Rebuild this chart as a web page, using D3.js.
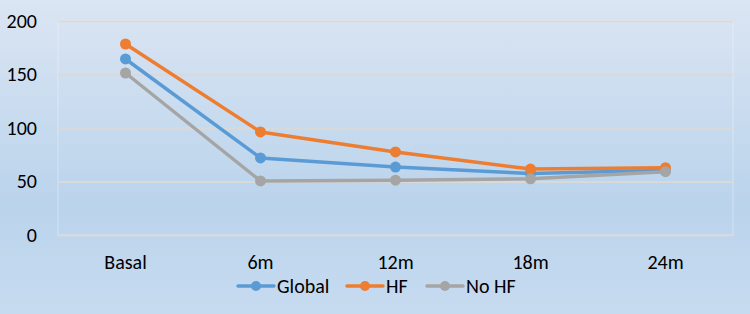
<!DOCTYPE html>
<html><head><meta charset="utf-8">
<script src="https://cdn.jsdelivr.net/npm/d3@7"></script>
<style>html,body{margin:0;padding:0;}svg{display:block;}</style>
</head><body>
<svg id="c" width="750" height="314"></svg>
<script>
const categories = ["Basal","6m","12m","18m","24m"];
const seriesNames = ["Global","HF","No HF"];
const globalVals = [164.5, 72, 63.5, 57.5, 60.5];
const hfVals = [178.5, 96.3, 77.6, 61.6, 62.9];
const noHfVals = [151.4, 50.5, 51.2, 52.5, 59.2];
const yTicks = [0, 50, 100, 150, 200];
const colors = ["#5b9bd5", "#ed7d31", "#a5a5a5"];

const series = [globalVals, hfVals, noHfVals].map((v,i)=>({name:seriesNames[i], values:v, color:colors[i]}));
const FONT = "Carlito, Calibri, Lato, sans-serif";

const svg = d3.select("#c");
const W = 750, H = 314;
const defs = svg.append("defs");
const g = defs.append("linearGradient").attr("id","bg").attr("x1",0).attr("y1",0).attr("x2",0).attr("y2",1);
g.append("stop").attr("offset","0%").attr("stop-color","#dbe5f3");
g.append("stop").attr("offset","65%").attr("stop-color","#bad4ec");
g.append("stop").attr("offset","100%").attr("stop-color","#c7dbf0");
svg.append("rect").attr("width",W).attr("height",H).attr("fill","url(#bg)");

const m = {l:58, r:733, t:21, b:235};
const x = d3.scaleBand().domain(categories).range([m.l, m.r]);
const y = d3.scaleLinear().domain([0,200]).range([m.b, m.t]);

svg.append("rect").attr("x",m.l).attr("y",m.t).attr("width",m.r-m.l).attr("height",m.b-m.t)
  .attr("fill","none").attr("stroke","#ffffff").attr("stroke-opacity",0.35).attr("stroke-width",1);
svg.append("line").attr("x1",m.l).attr("x2",m.r).attr("y1",m.t+0.5).attr("y2",m.t+0.5)
  .attr("stroke","#ffffff").attr("stroke-opacity",0.8).attr("stroke-width",1.5);

const yAxis = d3.axisLeft(y).tickValues(yTicks).tickSize(-(m.r-m.l)).tickPadding(21);
const ya = svg.append("g").attr("transform",`translate(${m.l},0)`).call(yAxis);
ya.select(".domain").remove();
ya.selectAll(".tick line").attr("stroke","#d9d9d9").attr("stroke-width",2);
ya.selectAll(".tick text").attr("fill","#000").style("font-family",FONT).style("font-size","20px");

const xa = svg.append("g").attr("transform",`translate(0,${m.b})`)
  .call(d3.axisBottom(x).tickSize(0).tickPadding(20));
xa.select(".domain").remove();
xa.selectAll(".tick text").attr("fill","#000").style("font-family",FONT).style("font-size","20px");

const line = d3.line().x((d,i)=>x(categories[i])+x.bandwidth()/2).y(d=>y(d));
series.forEach(s=>{
  svg.append("path").attr("d",line(s.values)).attr("fill","none").attr("stroke",s.color)
    .attr("stroke-width",3.5).attr("stroke-linejoin","round").attr("stroke-linecap","round");
  svg.append("g").selectAll("circle").data(s.values).join("circle")
    .attr("cx",(d,i)=>x(categories[i])+x.bandwidth()/2).attr("cy",d=>y(d)).attr("r",5.5).attr("fill",s.color);
});

const legX = [238, 347, 427];
const legY = 286;
series.forEach((s,i)=>{
  const lg = svg.append("g").attr("transform",`translate(${legX[i]},${legY})`);
  lg.append("line").attr("x1",0).attr("x2",36).attr("y1",0).attr("y2",0).attr("stroke",s.color).attr("stroke-width",3.5).attr("stroke-linecap","round");
  lg.append("circle").attr("cx",18).attr("cy",0).attr("r",5).attr("fill",s.color);
  lg.append("text").attr("x",39).attr("y",0).attr("dy","0.35em").text(s.name)
    .style("font-family",FONT).style("font-size","20px").attr("fill","#000");
});
</script>
</body></html>
